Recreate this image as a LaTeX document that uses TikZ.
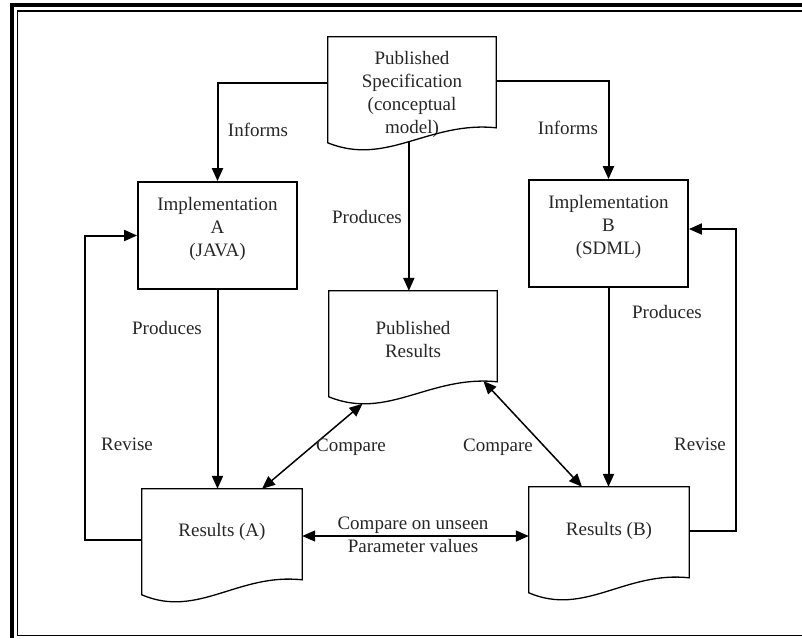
\documentclass[tikz,border=0pt]{standalone}
\usepackage{fontspec}
\setmainfont{Liberation Serif}
\usetikzlibrary{arrows.meta,calc,positioning}
\tikzset{arw/.style={-{Triangle[length=13pt,width=11pt]}, line width=2pt},
  dbl/.style={{Triangle[length=13pt,width=11pt]}-{Triangle[length=13pt,width=11pt]}, line width=1.5pt},
  blk/.style={draw, line width=1.8pt, minimum width=159pt, minimum height=107pt, align=center, inner sep=0pt, text depth=17pt},
  doc/.style={minimum width=160pt, align=center, inner sep=0pt},
  docline/.style={line width=1.3pt},
  lbl/.style={inner sep=0pt, align=center}}
% document outline: flat top, wavy bottom hanging below the node
\newcommand\docframe[1]{%
  \draw[docline] ($(#1.north west)+(0,106)$) -- (#1.north west) -- (#1.north east)
    -- ($(#1.north east)+(0,91)$)
    .. controls ($(#1.north west)!0.6!(#1.north east)+(0,84)$)
           and ($(#1.north west)!0.35!(#1.north east)+(0,130)$)
    .. ($(#1.north west)+(0,106)$)
    coordinate[pos=0.07] (#1-r) coordinate[pos=0.5] (#1-m) coordinate[pos=0.8] (#1-l)
    -- cycle;}

\begin{document}
\begin{tikzpicture}[x=1pt, y=-1pt, font=\fontsize{19}{23}\selectfont, text=black!85]
  \useasboundingbox (0,0) rectangle (802,638);
  % frame
  \draw[line width=4.5pt] (12,638) -- (12,5) -- (802,5);
  \draw[line width=1.4pt] (802,11) -- (17.5,11) -- (17.5,635.5) -- (802,635.5);

  \node[doc, minimum width=168pt, minimum height=115pt] (spec) at (412,94.5) {Published\\Specification\\(conceptual\\model)};
  \node[blk] (implA) at (217.5,235.5) {Implementation\\A\\(JAVA)};
  \node[blk] (implB) at (608.5,233.5) {Implementation\\B\\(SDML)};
  \node[doc, minimum width=168pt, minimum height=96pt] (pub) at (413,339) {Published\\Results};
  \node[doc, minimum height=86pt] (resA) at (222,532) {Results (A)};
  \node[doc, minimum height=88pt] (resB) at (609,531) {Results (B)};
  \docframe{spec}
  \docframe{pub}
  \docframe{resA}
  \docframe{resB}

  \draw[arw] ([yshift=12pt]spec.west) -| (implA.north);
  \draw[arw] ([yshift=14pt]spec.east) -| (implB.north);
  \draw[arw] (spec-m) -- (spec-m |- pub.north);
  \draw[arw] (implA.south) -- (implA.south |- resA.north);
  \draw[arw] (implB.south) -- (implB.south |- resB.north);
  \draw[arw] ([yshift=-8pt]resA.west) -- ++(-57,0) |- (implA.west);
  \draw[arw] (resB.east) -- ++(47,0) |- ([yshift=4.5pt]implB.east);
  \draw[dbl] ([yshift=-4pt]resA.east) -- ([yshift=-4pt]resA.east -| resB.west);
  \draw[dbl] ([xshift=40pt]resA.north) -- (pub-l);
  \draw[dbl] (pub-r) -- ([xshift=-27pt]resB.north);

  \node[lbl] (infA) at (258,130) {Informs};
  \node[lbl] (infB) at (568,128) {Informs};
  \node[lbl] (prdA) at (167,328) {Produces};
  \node[lbl] (prdS) at (367,217) {Produces};
  \node[lbl] (prdB) at (667,312) {Produces};
  \node[lbl] (revA) at (127,444) {Revise};
  \node[lbl] (revB) at (700,444) {Revise};
  \node[lbl] (cmpA) at (351,447) {Compare};
  \node[lbl] (cmpB) at (498,447) {Compare};
  \node[lbl] (cmpU) at (413,535) {Compare on unseen\\Parameter values};
\end{tikzpicture}
\end{document}
